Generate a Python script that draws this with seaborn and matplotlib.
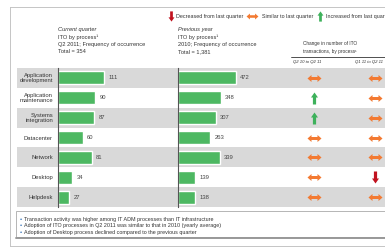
import matplotlib
matplotlib.use("Agg")
import matplotlib.pyplot as plt
import seaborn as sns
import pandas as pd
from matplotlib.path import Path
from matplotlib.patches import Rectangle
from matplotlib.lines import Line2D

# ---------------- data ----------------
processes = ["Application\ndevelopment", "Application\nmaintenance", "Systems\nintegration",
             "Datacenter", "Network", "Desktop", "Helpdesk"]
current_quarter = [111, 90, 87, 60, 81, 34, 27]
previous_year = [472, 348, 307, 263, 339, 139, 138]
change_q2_10_to_q2_11 = ["similar", "up", "up", "similar", "similar", "similar", "similar"]
change_q1_11_to_q2_11 = ["similar", "similar", "similar", "similar", "similar", "down", "similar"]
change_columns = ["Q2 10 to Q2 11", "Q1 11 to Q2 11"]
legend_labels = {"down": "Decreased from last quarter",
                 "similar": "Similar to last quarter",
                 "up": "Increased from last quarter"}
header_current = ["Current quarter", "ITO by process\u00b9", "Q2 2011; Frequency of occurrence", "Total = 354"]
header_previous = ["Previous year", "ITO by process\u00b9", "2010; Frequency of occurrence", "Total = 1,381"]
header_change = ["Change in number of ITO", "transactions, by process\u00b9"]
notes = ["Transaction activity was higher among IT ADM processes than IT infrastructure",
         "Adoption of ITO processes in Q2 2011 was similar to that in 2010 (yearly average)",
         "Adoption of Desktop process declined compared to the previous quarter"]

df = pd.DataFrame({"process": processes, "current": current_quarter, "previous": previous_year})

# ---------------- style ----------------
sns.set_style("white")
plt.rcParams["font.family"] = ["Liberation Sans", "DejaVu Sans"]
GREEN_BAR = "#4DB862"
BAND = "#D9D9D9"
TXT = "#333333"
COLORS = {"similar": "#F37A32", "up": "#3DB15B", "down": "#C1121F"}

W, H = 385, 247
fig = plt.figure(figsize=(W / 100, H / 100), dpi=100)
fig.patch.set_facecolor("white")


def px_axes(x0, y0, w, h):
    ax = fig.add_axes([x0 / W, 1 - (y0 + h) / H, w / W, h / H])
    ax.set_facecolor("none")
    return ax


# marker shapes
dbl = Path([(-7, 0), (-3, 3.5), (-3, 1.5), (3, 1.5), (3, 3.5), (7, 0), (3, -3.5), (3, -1.5),
            (-3, -1.5), (-3, -3.5), (-7, 0)], closed=True)
up_v = [(0, 6), (3.5, 1), (1.6, 1), (1.6, -6), (-1.6, -6), (-1.6, 1), (-3.5, 1), (0, 6)]
up = Path(up_v, closed=True)
down = Path([(x, -y) for x, y in up_v], closed=True)
MARKERS = {"similar": dbl, "up": up, "down": down}
MSIZE = {"similar": 14 * 0.72, "up": 12 * 0.72, "down": 12 * 0.72}

# background overlay (frame, texts)
bg = px_axes(0, 0, W, H)
bg.set_xlim(0, W)
bg.set_ylim(H, 0)
bg.axis("off")
bg.plot([10, W], [7, 7], color="#BBBBBB", lw=0.6)
bg.plot([10, 10], [7, 246], color="#BBBBBB", lw=0.6)
bg.plot([10, W], [246, 246], color="#BBBBBB", lw=0.6)

# legend
leg_pos = {"down": (171, 176), "similar": (252, 262), "up": (320, 326)}
for key, (mx, tx) in leg_pos.items():
    bg.plot([mx], [16.5], marker=MARKERS[key], markersize=MSIZE[key] * (0.85 if key == "similar" else 0.85),
            color=COLORS[key], mec="none", ls="none")
    bg.text(tx, 16.5, legend_labels[key], fontsize=3.9, color=TXT, va="center", ha="left")

# headers
ys = [30, 37.5, 44.5, 51.5]
for i, (a, b) in enumerate(zip(header_current, header_previous)):
    st = "italic" if i == 0 else "normal"
    bg.text(58, ys[i], a, fontsize=4.1, color=TXT, va="center", style=st)
    bg.text(178, ys[i], b, fontsize=4.1, color=TXT, va="center", style=st)
bg.text(330, 44, header_change[0], fontsize=3.4, color=TXT, va="center", ha="center")
bg.text(330, 51, header_change[1], fontsize=3.4, color=TXT, va="center", ha="center")
bg.plot([291, W], [57.5, 57.5], color="#333333", lw=0.6)

# notes box
bg.add_patch(Rectangle((16, 211), 380, 26, facecolor="white", edgecolor="#AAAAAA", lw=0.6))
bg.plot([16, W], [237.6, 237.6], color="#999999", lw=1.4)
for i, t in enumerate(notes):
    y = 219 + i * 6.5
    bg.text(19.5, y, "\u2022", fontsize=4.2, color="#2E6DB4", va="center")
    bg.text(24, y, t, fontsize=3.9, color=TXT, va="center")

# row bands
band = px_axes(17, 68, W - 17, 139)
band.set_ylim(len(processes) - 0.5, -0.5)
band.set_xlim(0, 1)
band.axis("off")
for i in range(0, len(processes), 2):
    band.axhspan(i - 0.5, i + 0.5, color=BAND, lw=0)

# bar panels
def bar_panel(ax, col, xmax, labels):
    sns.barplot(data=df, y="process", x=col, ax=ax, color=GREEN_BAR, width=0.65,
                orient="h", saturation=1)
    ax.set_xlim(0, xmax)
    ax.set_xlabel("")
    ax.set_ylabel("")
    ax.set_xticks([])
    for s in ["top", "right", "bottom"]:
        ax.spines[s].set_visible(False)
    ax.spines["left"].set_color("#555555")
    ax.spines["left"].set_linewidth(0.8)
    ax.tick_params(axis="y", length=0, pad=3.6, labelsize=4.2, labelcolor=TXT)
    if labels:
        for lab in ax.get_yticklabels():
            lab.set_linespacing(1.0)
    else:
        ax.set_yticklabels([])
    ax.bar_label(ax.containers[0], padding=3, fontsize=4.2, color="#444444")


ax1 = px_axes(58, 68, 112, 139)
bar_panel(ax1, "current", 270, True)
ax2 = px_axes(178, 68, 100, 139)
bar_panel(ax2, "previous", 814, False)

# change arrows
ax3 = px_axes(290, 68, 95, 139)
ax3.set_xlim(-24 / 61, 1 + 10 / 61)
ax3.set_ylim(len(processes) - 0.5, -0.5)
ax3.axis("off")
for ci, series in enumerate([change_q2_10_to_q2_11, change_q1_11_to_q2_11]):
    for ri, status in enumerate(series):
        ax3.plot([ci], [ri], marker=MARKERS[status], markersize=MSIZE[status],
                 color=COLORS[status], mec="none", ls="none")
bg.text(293, 61.5, change_columns[0], fontsize=3.1, color=TXT, va="center", style="italic")
bg.text(355, 61.5, change_columns[1], fontsize=3.1, color=TXT, va="center", style="italic")

fig.savefig("out.png", dpi=100)
